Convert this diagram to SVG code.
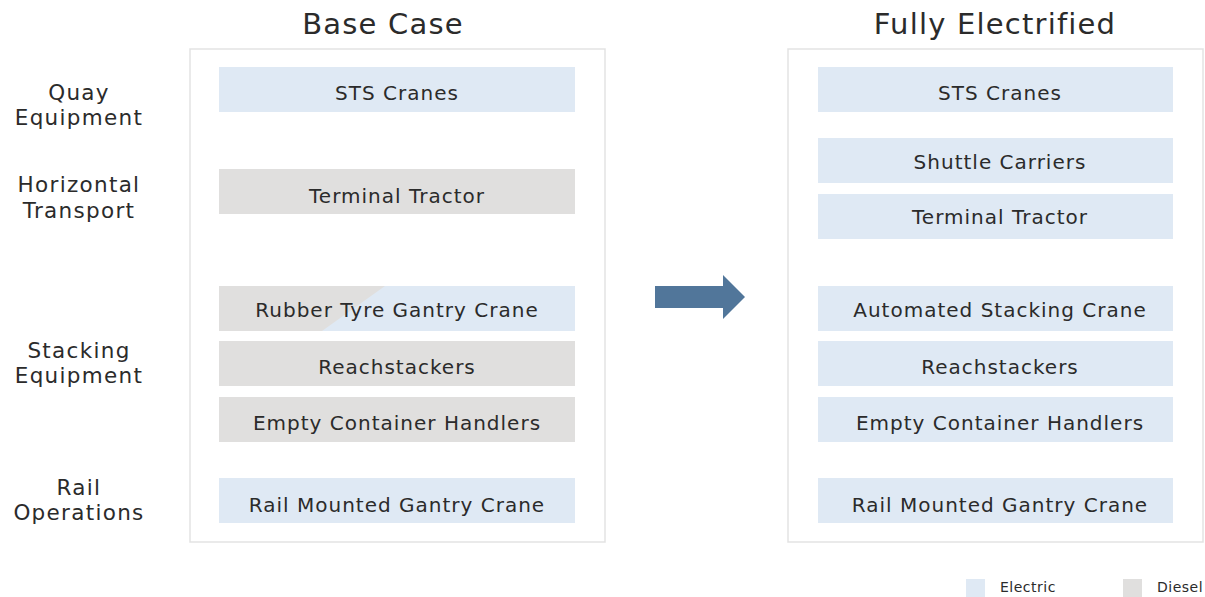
<svg xmlns="http://www.w3.org/2000/svg" width="1205" height="597" viewBox="0 0 1205 597">
<style>
text{font-family:"DejaVu Sans","Liberation Sans",sans-serif;fill:#2b2b2b}
.frame{fill:#fff;stroke:#e3e3e3;stroke-width:1.5}
.el{fill:#dfe9f4}
.di{fill:#e0dfde}
.bl{font-size:20px;text-anchor:middle;letter-spacing:1px}
.cat{font-size:21.5px;text-anchor:middle;letter-spacing:1.3px}
.ttl{font-size:29px;text-anchor:middle;letter-spacing:1.2px}
.lg{font-size:14px;letter-spacing:0.5px}
</style>
<rect width="1205" height="597" fill="#fff"/>
<text class="ttl" x="383" y="34">Base Case</text>
<text class="ttl" x="995" y="34">Fully Electrified</text>
<g id="categories">
<text class="cat" x="79" y="100">Quay</text>
<text class="cat" x="79" y="125">Equipment</text>
<text class="cat" x="79" y="192">Horizontal</text>
<text class="cat" x="79" y="218">Transport</text>
<text class="cat" x="79" y="358">Stacking</text>
<text class="cat" x="79" y="383">Equipment</text>
<text class="cat" x="79" y="495">Rail</text>
<text class="cat" x="79" y="520">Operations</text>
</g>
<rect id="base-frame" class="frame" x="190" y="49" width="415" height="493"/>
<rect id="elec-frame" class="frame" x="788" y="49" width="415" height="493"/>
<g id="base-sts"><rect class="el" x="219" y="67" width="356" height="45"/><text class="bl" x="397" y="100">STS Cranes</text></g>
<g id="base-tt"><rect class="di" x="219" y="169" width="356" height="45"/><text class="bl" x="397" y="203">Terminal Tractor</text></g>
<g id="base-rtg"><rect class="el" x="219" y="286" width="356" height="45"/><polygon class="di" points="219,286 385,286 322,331 219,331"/><text class="bl" x="397" y="317">Rubber Tyre Gantry Crane</text></g>
<g id="base-reach"><rect class="di" x="219" y="341" width="356" height="45"/><text class="bl" x="397" y="374">Reachstackers</text></g>
<g id="base-ech"><rect class="di" x="219" y="397" width="356" height="45"/><text class="bl" x="397" y="430">Empty Container Handlers</text></g>
<g id="base-rmg"><rect class="el" x="219" y="478" width="356" height="45"/><text class="bl" x="397" y="512">Rail Mounted Gantry Crane</text></g>
<g id="el-sts"><rect class="el" x="818" y="67" width="355" height="45"/><text class="bl" x="1000" y="100">STS Cranes</text></g>
<g id="el-shuttle"><rect class="el" x="818" y="138" width="355" height="45"/><text class="bl" x="1000" y="169">Shuttle Carriers</text></g>
<g id="el-tt"><rect class="el" x="818" y="194" width="355" height="45"/><text class="bl" x="1000" y="224">Terminal Tractor</text></g>
<g id="el-asc"><rect class="el" x="818" y="286" width="355" height="45"/><text class="bl" x="1000" y="317">Automated Stacking Crane</text></g>
<g id="el-reach"><rect class="el" x="818" y="341" width="355" height="45"/><text class="bl" x="1000" y="374">Reachstackers</text></g>
<g id="el-ech"><rect class="el" x="818" y="397" width="355" height="45"/><text class="bl" x="1000" y="430">Empty Container Handlers</text></g>
<g id="el-rmg"><rect class="el" x="818" y="478" width="355" height="45"/><text class="bl" x="1000" y="512">Rail Mounted Gantry Crane</text></g>
<g id="connectors">
<polygon points="655,286 723,286 723,275 745,297 723,319 723,308 655,308" fill="#51769a"/>
</g>
<g id="legend">
<rect class="el" x="966" y="579" width="19" height="18"/>
<text class="lg" x="1000" y="592">Electric</text>
<rect class="di" x="1123" y="579" width="19" height="18"/>
<text class="lg" x="1157" y="592">Diesel</text>
</g>
</svg>
